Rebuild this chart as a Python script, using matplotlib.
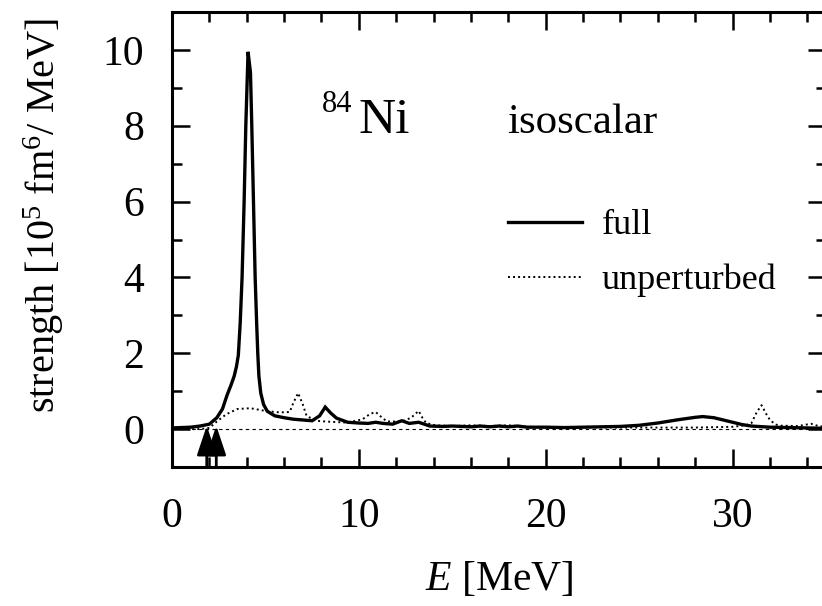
import matplotlib
matplotlib.use("Agg")
import matplotlib.pyplot as plt
from matplotlib.ticker import MultipleLocator

plt.rcParams['font.family'] = ['Liberation Serif', 'DejaVu Serif']
plt.rcParams['mathtext.fontset'] = 'custom'
plt.rcParams['mathtext.rm'] = 'Liberation Serif'
plt.rcParams['mathtext.it'] = 'Liberation Serif:italic'

# ---- data ----
E_full = [0.0, 1.0, 1.5, 2.0, 2.4, 2.7, 2.95, 3.15, 3.33, 3.45, 3.55, 3.65, 3.75,
          3.86, 3.95, 4.07, 4.2, 4.27, 4.36, 4.45, 4.53, 4.59, 4.65, 4.75, 4.9,
          5.1, 5.5, 6.0, 6.5, 7.5, 7.9, 8.2, 8.5, 8.8, 9.4, 10.0, 10.5, 10.9,
          11.3, 11.8, 12.3, 12.7, 13.2, 13.8, 14.5, 15.0, 16.0, 16.5, 17.0, 17.5,
          18.0, 18.5, 19.0, 20.0, 21.0, 22.0, 23.0, 24.0, 25.0, 26.0, 27.0, 28.0,
          28.4, 29.0, 29.5, 30.0, 30.5, 31.0, 32.0, 33.0, 34.0, 35.0]
S_full = [0.03, 0.05, 0.08, 0.13, 0.3, 0.53, 0.9, 1.15, 1.4, 1.65, 1.95, 2.8, 4.0,
          6.0, 8.0, 9.95, 9.4, 8.0, 6.0, 4.0, 2.8, 2.0, 1.4, 0.95, 0.65,
          0.47, 0.35, 0.3, 0.26, 0.22, 0.35, 0.58, 0.42, 0.29, 0.18, 0.16, 0.15, 0.18,
          0.15, 0.13, 0.22, 0.15, 0.18, 0.08, 0.07, 0.08, 0.06, 0.08, 0.06, 0.08,
          0.06, 0.08, 0.05, 0.05, 0.04, 0.05, 0.06, 0.07, 0.1, 0.16, 0.24, 0.31,
          0.33, 0.3, 0.24, 0.18, 0.12, 0.08, 0.05, 0.04, 0.03, 0.02]

E_unp = [0.0, 1.5, 2.0, 2.4, 2.9, 3.5, 4.2, 5.1, 5.8, 6.3, 6.5, 6.75, 7.0, 7.2,
         7.7, 8.2, 9.4, 10.2, 10.6, 10.9, 11.2, 11.5, 12.3, 12.8, 13.2, 13.4, 13.6,
         14.1, 15.0, 16.0, 17.0, 18.0, 19.0, 20.0, 22.0, 24.0, 26.0, 28.0, 29.0,
         30.0, 30.7, 31.0, 31.3, 31.55, 31.8, 32.0, 32.3, 32.6, 33.5, 34.2, 34.6, 35.0]
S_unp = [0.0, 0.0, 0.03, 0.2, 0.39, 0.53, 0.55, 0.47, 0.44, 0.45, 0.7, 0.95, 0.65, 0.35,
         0.22, 0.2, 0.17, 0.26, 0.4, 0.45, 0.32, 0.2, 0.2, 0.3, 0.48, 0.3, 0.16,
         0.1, 0.08, 0.1, 0.08, 0.1, 0.06, 0.05, 0.05, 0.04, 0.04, 0.04, 0.05,
         0.06, 0.1, 0.15, 0.45, 0.63, 0.4, 0.24, 0.12, 0.09, 0.08, 0.14, 0.08, 0.06]

threshold_E = [1.86, 2.37]
arrow_tip = 0.09

xticks = [0, 10, 20, 30]
yticks = [0, 2, 4, 6, 8, 10]

fig = plt.figure(figsize=(8.22, 6.06), dpi=100)
ax = fig.add_axes([172/822, (606-467)/606, (826-172)/822, 455/606])

ax.plot(E_full, S_full, color='black', lw=2.4, solid_joinstyle='miter', label='full')
ax.plot(E_unp, S_unp, color='black', lw=1.4, linestyle=(0, (1, 1.6)), label='unperturbed')
ax.axhline(0, color='black', lw=0.8, linestyle=(0, (3, 3)))

for e in threshold_E:
    ax.annotate('', xy=(e, arrow_tip), xytext=(e, -1.0),
                arrowprops=dict(arrowstyle='-|>,head_length=0.9,head_width=0.3',
                                lw=2.0, color='black', mutation_scale=20,
                                shrinkA=0, shrinkB=0))

ax.set_xlim(0, 35)
ax.set_ylim(-1, 11)
ax.set_xticks(xticks)
ax.set_yticks(yticks)
ax.xaxis.set_minor_locator(MultipleLocator(2))
ax.yaxis.set_minor_locator(MultipleLocator(1))
ax.tick_params(which='both', direction='in', top=True, right=True, width=1.8)
ax.tick_params(which='major', length=13)
ax.tick_params(which='minor', length=7)
ax.tick_params(axis='y', which='major', labelsize=30, pad=20)
ax.tick_params(axis='x', which='major', labelsize=30, pad=22)
for sp in ax.spines.values():
    sp.set_linewidth(2.2)

ax.set_xlabel(r'$\mathit{E}$ [MeV]', fontsize=30, labelpad=17)
ax.set_ylabel(r'strength [10$^{5}$ fm$^{6}$/ MeV]', fontsize=29)
ax.yaxis.set_label_coords((66-172)/654, (467-215)/455)

ax.text((322-172)/654, (467-112)/455, '84', transform=ax.transAxes,
        fontsize=22, ha='left', va='baseline')
ax.text((358-172)/654, (467-133)/455, 'Ni', transform=ax.transAxes,
        fontsize=37, ha='left', va='baseline')
ax.text((507-172)/654, (467-133)/455, 'isoscalar', transform=ax.transAxes,
        fontsize=31, ha='left', va='baseline')

leg = ax.legend(loc='upper left', bbox_to_anchor=((508-172)/654, (467-209)/455),
                frameon=False, fontsize=26, handlelength=2.05, handletextpad=0.55,
                labelspacing=0.6, borderpad=0, borderaxespad=0)

fig.savefig('out.png', dpi=100)
